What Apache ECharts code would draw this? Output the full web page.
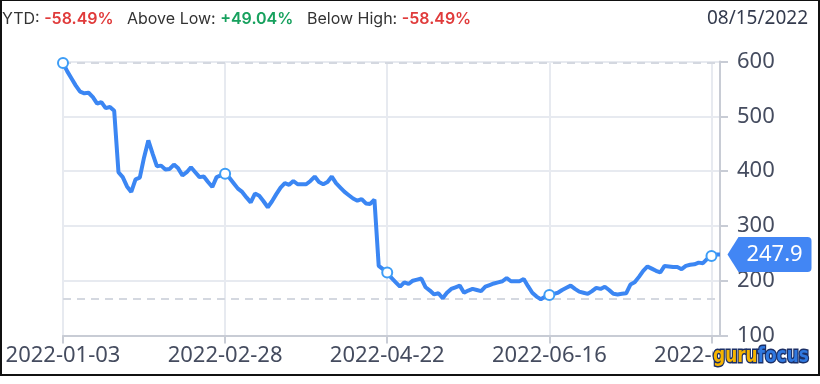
<!DOCTYPE html>
<html>
<head>
<meta charset="utf-8">
<script src="https://cdn.jsdelivr.net/npm/echarts@6/dist/echarts.min.js"></script>
<style>
html,body{margin:0;padding:0;background:#fff;}
#wrap{position:relative;width:820px;height:384px;}
#chart{width:820px;height:384px;}
#frame{position:absolute;left:0;top:0;width:820px;height:376px;box-sizing:border-box;border:2px solid #111;border-top-width:1px;pointer-events:none;}
</style>
</head>
<body>
<div id="wrap"><div id="chart"></div><div id="frame"></div></div>
<script>
// Trading dates (category axis)
const datesJan = ['2022-01-03','2022-01-04','2022-01-05','2022-01-06','2022-01-07','2022-01-10','2022-01-11','2022-01-12','2022-01-13','2022-01-14','2022-01-18','2022-01-19','2022-01-20','2022-01-21','2022-01-24','2022-01-25','2022-01-26','2022-01-27','2022-01-28','2022-01-31'];
const datesFeb = ['2022-02-01','2022-02-02','2022-02-03','2022-02-04','2022-02-07','2022-02-08','2022-02-09','2022-02-10','2022-02-11','2022-02-14','2022-02-15','2022-02-16','2022-02-17','2022-02-18','2022-02-22','2022-02-23','2022-02-24','2022-02-25','2022-02-28'];
const datesMar = ['2022-03-01','2022-03-02','2022-03-03','2022-03-04','2022-03-07','2022-03-08','2022-03-09','2022-03-10','2022-03-11','2022-03-14','2022-03-15','2022-03-16','2022-03-17','2022-03-18','2022-03-21','2022-03-22','2022-03-23','2022-03-24','2022-03-25','2022-03-28','2022-03-29','2022-03-30','2022-03-31'];
const datesApr = ['2022-04-01','2022-04-04','2022-04-05','2022-04-06','2022-04-07','2022-04-08','2022-04-11','2022-04-12','2022-04-13','2022-04-14','2022-04-18','2022-04-19','2022-04-20','2022-04-21','2022-04-22','2022-04-25','2022-04-26','2022-04-27','2022-04-28','2022-04-29'];
const datesMay = ['2022-05-02','2022-05-03','2022-05-04','2022-05-05','2022-05-06','2022-05-09','2022-05-10','2022-05-11','2022-05-12','2022-05-13','2022-05-16','2022-05-17','2022-05-18','2022-05-19','2022-05-20','2022-05-23','2022-05-24','2022-05-25','2022-05-26','2022-05-27','2022-05-31'];
const datesJun = ['2022-06-01','2022-06-02','2022-06-03','2022-06-06','2022-06-07','2022-06-08','2022-06-09','2022-06-10','2022-06-13','2022-06-14','2022-06-15','2022-06-16','2022-06-17','2022-06-21','2022-06-22','2022-06-23','2022-06-24','2022-06-27','2022-06-28','2022-06-29','2022-06-30'];
const datesJul = ['2022-07-01','2022-07-05','2022-07-06','2022-07-07','2022-07-08','2022-07-11','2022-07-12','2022-07-13','2022-07-14','2022-07-15','2022-07-18','2022-07-19','2022-07-20','2022-07-21','2022-07-22','2022-07-25','2022-07-26','2022-07-27','2022-07-28','2022-07-29'];
const datesAug = ['2022-08-01','2022-08-02','2022-08-03','2022-08-04','2022-08-05','2022-08-08','2022-08-09','2022-08-10','2022-08-11','2022-08-12','2022-08-15'];
const categories = [].concat(datesJan, datesFeb, datesMar, datesApr, datesMay, datesJun, datesJul, datesAug);

// Price values
const pricesJan = [597.2,582,569,556,545,542,543,535,523,526,515,517,510,398,389,372,362,385,388,425];
const pricesFeb = [456,432,409,410,403,404,412,405,392,398,407,398,389,390,380,371,389,392,395];
const pricesMar = [388,378,368,362,352,343,359,355,345,334,345,358,370,378,375,382,376,376,376,382,390,380,376];
const pricesApr = [380,390,378,370,362,356,350,346,349,341,340,348,227,221,215,205,197,189,197,194];
const pricesMay = [200,202,204,188,182,175,177,168,178,185,188,191,178,182,185,183,181,189,192,195,197];
const pricesJun = [199,205,199,199,199,203,190,178,171,166.3,171,174,176,178,183,187,191,185,180,178,176];
const pricesJul = [181,187,185,189,183,176,175,176,177,193,197,207,218,226,222,218,215,227,226,225];
const pricesAug = [225,221,227,229,230,233,232,240,245,248,247.9];
const prices = [].concat(pricesJan, pricesFeb, pricesMar, pricesApr, pricesMay, pricesJun, pricesJul, pricesAug);

const yTicks = [100, 200, 300, 400, 500, 600];
const highValue = 597.2;
const lowValue = 166.3;
const lastValue = 247.9;
const headerItems = [
  {label: 'YTD: ', value: '-58.49%', color: '#e03b3b'},
  {label: 'Above Low: ', value: '+49.04%', color: '#17a15e'},
  {label: 'Below High: ', value: '-58.49%', color: '#e03b3b'}
];
const dateText = '08/15/2022';

const labelStep = 38;
const chart = echarts.init(document.getElementById('chart'), null, {renderer: 'canvas'});

const headerPos = [2, 127, 307];
const graphics = [];
headerItems.forEach((h, i) => {
  graphics.push({
    type: 'text', left: headerPos[i], top: 11,
    style: {
      text: '{a|' + h.label + '}{b|' + h.value + '}',
      rich: {
        a: {fontFamily: 'Inter', fontSize: 16, fill: '#333', fontWeight: 400},
        b: {fontFamily: 'Inter', fontSize: 16, fill: h.color, fontWeight: 600}
      }
    }
  });
});
graphics.push({
  type: 'text', right: 12, top: 9,
  style: {text: dateText, fontFamily: 'Noto Sans', fontSize: 19, fill: '#333a4d'}
});
graphics.push({
  type: 'text', x: 713, y: 345, scaleX: 0.77, z: 100,
  style: {
    text: '{g|guru}{f|focus}',
    backgroundColor: '#fff',
    rich: {
      g: {fontFamily: 'DejaVu Sans', fontWeight: 'bold', fontSize: 22, fill: '#f6b400', stroke: '#1b2f66', lineWidth: 3},
      f: {fontFamily: 'DejaVu Sans', fontWeight: 'bold', fontSize: 22, fill: '#2f78e0', stroke: '#1b2f66', lineWidth: 3}
    }
  }
});

const option = {
  animation: false,
  backgroundColor: '#fff',
  graphic: graphics,
  grid: {left: 63, right: 100, top: 61.5, bottom: 48.5, containLabel: false},
  xAxis: {
    type: 'category',
    data: categories,
    boundaryGap: false,
    axisLine: {show: true, lineStyle: {color: '#c8ccd5', width: 2}},
    axisTick: {show: true, interval: labelStep - 1, length: 8, lineStyle: {color: '#c8ccd5', width: 2}},
    axisLabel: {interval: labelStep - 1, fontFamily: 'Noto Sans', fontSize: 22, color: '#454c5f', margin: 9, hideOverlap: false},
    splitLine: {show: true, interval: labelStep - 1, lineStyle: {color: '#e7eaf0', width: 2}}
  },
  yAxis: {
    type: 'value',
    position: 'right',
    min: yTicks[0],
    max: yTicks[yTicks.length - 1],
    interval: 100,
    axisLine: {show: true, lineStyle: {color: '#c8ccd5', width: 2}},
    axisTick: {show: true, length: 8, lineStyle: {color: '#c8ccd5', width: 2}},
    axisLabel: {fontFamily: 'Noto Sans', fontSize: 22, color: '#454c5f', margin: 17},
    splitLine: {show: true, lineStyle: {color: '#e7eaf0', width: 2}}
  },
  series: [{
    type: 'line',
    data: prices,
    showSymbol: true,
    showAllSymbol: true,
    symbol: 'emptyCircle',
    symbolSize: function (v, p) { return p.dataIndex % labelStep === 0 ? 10 : 0; },
    lineStyle: {color: '#3b86f3', width: 4},
    itemStyle: {color: '#3d9df6', borderColor: '#3d9df6', borderWidth: 3},
    z: 5,
    markLine: {
      silent: true,
      symbol: 'none',
      label: {show: false},
      lineStyle: {color: '#d4d8e0', type: [8, 6], width: 2},
      data: [{yAxis: highValue}, {yAxis: lowValue}]
    },
    markPoint: {
      silent: true,
      data: [{coord: [categories[categories.length - 1], lastValue], value: lastValue}],
      symbol: 'path://M0,17.5 L11,0 L80,0 Q84,0 84,4 L84,31 Q84,35 80,35 L11,35 Z',
      symbolSize: [84, 35],
      symbolOffset: [49.5, 0],
      itemStyle: {color: '#4286f4'},
      label: {show: true, position: 'inside', offset: [5, 0], formatter: function (p) { return p.value.toFixed(1); }, color: '#fff', fontFamily: 'Noto Sans', fontSize: 22}
    }
  }]
};
chart.setOption(option);
</script>
</body>
</html>
